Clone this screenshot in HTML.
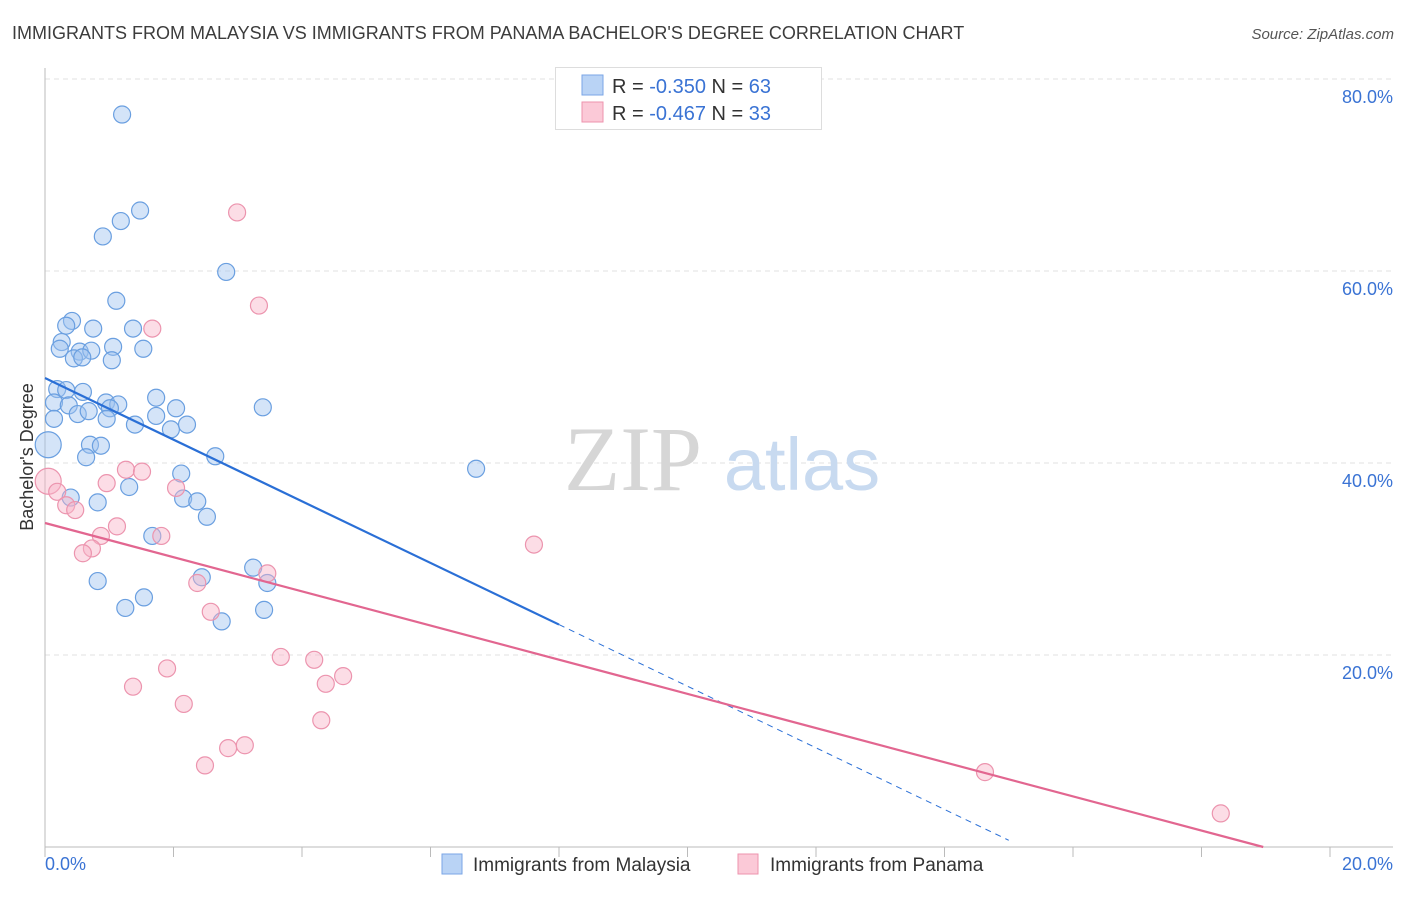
<!DOCTYPE html>
<html><head><meta charset="utf-8"><style>
body{margin:0;background:#fff;font-family:"Liberation Sans",sans-serif}
</style></head><body>
<svg width="1406" height="892" viewBox="0 0 1406 892" xmlns="http://www.w3.org/2000/svg">
<text x="12" y="39" font-size="18" fill="#3c3c3c">IMMIGRANTS FROM MALAYSIA VS IMMIGRANTS FROM PANAMA BACHELOR'S DEGREE CORRELATION CHART</text>
<text x="1394" y="39" font-size="15" fill="#555" text-anchor="end" font-style="italic">Source: ZipAtlas.com</text>
<g id="grid"></g>
<g>
<text x="633" y="490" font-size="92" font-family="Liberation Serif,serif" fill="#d6d6d6" text-anchor="middle">ZIP</text>
<text x="802" y="490" font-size="74" fill="#c8daf0" text-anchor="middle">atlas</text>
</g>
<g id="axes"></g>
<g id="pts"></g>
<g id="lines"></g>
<text x="33" y="457" font-size="18" fill="#333" text-anchor="middle" transform="rotate(-90 33 457)">Bachelor's Degree</text>
<g>
<rect x="555.5" y="67.5" width="266" height="62" fill="#fff" stroke="#ddd"/>
<rect x="582" y="75" width="21" height="20" fill="#b9d3f5" stroke="#7aa6e6"/>
<rect x="582" y="102" width="21" height="20" fill="#fbc9d7" stroke="#ee93ae"/>
<text x="612" y="93" font-size="20" fill="#333">R = <tspan fill="#3a73d4">-0.350</tspan>   N = <tspan fill="#3a73d4">63</tspan></text>
<text x="612" y="120" font-size="20" fill="#333">R = <tspan fill="#3a73d4">-0.467</tspan>   N = <tspan fill="#3a73d4">33</tspan></text>
</g>
<g>
<rect x="442" y="854" width="20" height="20" fill="#b9d3f5" stroke="#7aa6e6"/>
<text x="473" y="871" font-size="19" fill="#333">Immigrants from Malaysia</text>
<rect x="738" y="854" width="20" height="20" fill="#fbc9d7" stroke="#ee93ae"/>
<text x="770" y="871" font-size="19" fill="#333">Immigrants from Panama</text>
</g>
</svg>
<script>
const yTicks=[20,40,60,80];
const yTickLabels=["20.0%","40.0%","60.0%","80.0%"];
const xTickLabels=["0.0%","20.0%"];
const blueX=[1.20,1.48,1.18,0.90,2.82,1.11,0.42,0.33,0.75,1.37,0.26,0.23,0.54,0.72,1.06,1.53,0.45,1.04,0.58,0.19,0.33,0.59,0.14,0.37,0.51,0.68,0.14,0.95,1.14,1.01,0.96,1.73,1.73,2.04,1.40,1.96,2.21,2.65,3.39,6.71,0.05,0.70,0.87,0.64,2.12,1.31,0.40,0.82,2.15,2.37,2.52,1.67,2.44,3.24,3.46,0.82,1.54,1.25,2.75,3.41];
const blueY=[76.3,66.3,65.2,63.6,59.9,56.9,54.8,54.3,54.0,54.0,52.6,51.9,51.6,51.7,52.1,51.9,50.9,50.7,51.0,47.7,47.6,47.4,46.3,46.0,45.1,45.4,44.6,46.3,46.1,45.7,44.6,46.8,44.9,45.7,44.0,43.5,44.0,40.7,45.8,39.4,41.9,41.9,41.8,40.6,38.9,37.5,36.4,35.9,36.3,36.0,34.4,32.4,28.1,29.1,27.5,27.7,26.0,24.9,23.5,24.7];
const pinkX=[2.99,3.33,1.67,1.26,1.51,0.96,2.04,0.05,0.19,0.33,0.47,1.12,0.87,1.81,0.73,0.59,2.37,3.46,2.58,7.61,3.67,4.19,4.64,4.37,1.90,1.37,2.16,4.30,2.85,3.11,2.49,14.63,18.30];
const pinkY=[66.1,56.4,54.0,39.3,39.1,37.9,37.4,38.1,37.0,35.6,35.1,33.4,32.4,32.4,31.1,30.6,27.5,28.5,24.5,31.5,19.8,19.5,17.8,17.0,18.6,16.7,14.9,13.2,10.3,10.6,8.5,7.8,3.5];
const blueLine=[48.85,-3.21];
const pinkLine=[33.75,-1.78];
const X0=45,X1=1330,Y0=847,Y80=79;
const sx=v=>X0+(X1-X0)*v/20;
const sy=v=>Y0-(Y0-Y80)*v/80;
const NS="http://www.w3.org/2000/svg";
function mk(tag,attrs,parent){const e=document.createElementNS(NS,tag);for(const k in attrs)e.setAttribute(k,attrs[k]);parent.appendChild(e);return e;}
const grid=document.getElementById('grid'),axes=document.getElementById('axes'),pts=document.getElementById('pts'),lines=document.getElementById('lines');
yTicks.forEach((t,i)=>{
 const l=mk('line',{x1:X0,x2:1393,y1:sy(t),y2:sy(t),stroke:'#e2e2e2','stroke-dasharray':'5,4'},grid);
 
 
 const tx=mk('text',{x:1393,y:sy(t)+24,'font-size':18,fill:'#3a73d4','text-anchor':'end'},axes);
 tx.textContent=yTickLabels[i];
 
 
});
mk('line',{x1:X0,x2:X0,y1:68,y2:Y0,stroke:'#bbb'},axes);
mk('line',{x1:X0,x2:1393,y1:Y0,y2:Y0,stroke:'#bbb'},axes);
for(let i=0;i<=10;i++){
 const t=mk('line',{x1:sx(i*2),x2:sx(i*2),y1:Y0,y2:Y0+10,stroke:'#bbb'},axes);
 
 
}
const xl0=mk('text',{x:45,y:870,'font-size':18,fill:'#3a73d4'},axes);xl0.textContent=xTickLabels[0];


const xl1=mk('text',{x:1393,y:870,'font-size':18,fill:'#3a73d4','text-anchor':'end'},axes);xl1.textContent=xTickLabels[1];


function dots(xs,ys,fill,stroke,name){xs.forEach((x,i)=>{
 const r=(x<0.1)?13:8.5;
 const c=mk('circle',{cx:sx(x),cy:sy(ys[i]),r:r,fill:fill,stroke:stroke,'stroke-width':1.2},pts);
 
 
});}
dots(blueX,blueY,'rgba(160,196,240,0.45)','#6a9fe0','point-malaysia');
dots(pinkX,pinkY,'rgba(248,180,200,0.45)','#ec94ae','point-panama');
const bEnd=8.0,bDash=15.0;
const b1=mk('line',{x1:sx(0),y1:sy(blueLine[0]),x2:sx(bEnd),y2:sy(blueLine[0]+blueLine[1]*bEnd),stroke:'#2a6fd6','stroke-width':2.2},lines);


const b2=mk('line',{x1:sx(bEnd),y1:sy(blueLine[0]+blueLine[1]*bEnd),x2:sx(bDash),y2:sy(blueLine[0]+blueLine[1]*bDash),stroke:'#2a6fd6','stroke-width':1,'stroke-dasharray':'6,5'},lines);


const pEnd=-pinkLine[0]/pinkLine[1];
const p1=mk('line',{x1:sx(0),y1:sy(pinkLine[0]),x2:sx(pEnd),y2:sy(0),stroke:'#e26690','stroke-width':2.2},lines);


</script>
</body></html>
